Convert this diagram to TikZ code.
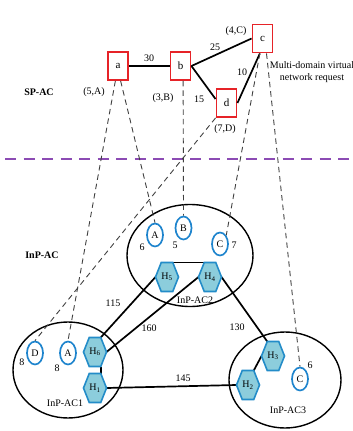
\documentclass[tikz,border=0pt]{standalone}
\usepackage{fontspec}
\setmainfont{Liberation Serif}
\usetikzlibrary{shapes.geometric,backgrounds}

% A hexagon with flat top and bottom edges and pointed left/right corners,
% stretched to the node's minimum width and height.
\makeatletter
\newdimen\hexL \newdimen\hexR \newdimen\hexT \newdimen\hexB \newdimen\hexM
\newdimen\hexQL \newdimen\hexQR
\pgfdeclareshape{hexcell}{%
  \inheritsavedanchors[from=rectangle]%
  \inheritanchorborder[from=rectangle]%
  \inheritanchor[from=rectangle]{center}%
  \inheritanchor[from=rectangle]{north}%
  \inheritanchor[from=rectangle]{south}%
  \inheritanchor[from=rectangle]{east}%
  \inheritanchor[from=rectangle]{west}%
  \inheritanchor[from=rectangle]{mid}%
  \inheritanchor[from=rectangle]{base}%
  \anchor{north west}{\southwest\pgf@xa=\pgf@x\northeast\pgf@x=.25\pgf@x\advance\pgf@x by .75\pgf@xa}%
  \anchor{north east}{\southwest\pgf@xa=\pgf@x\northeast\pgf@x=.75\pgf@x\advance\pgf@x by .25\pgf@xa}%
  \anchor{south west}{\northeast\pgf@xa=\pgf@x\southwest\pgf@x=.75\pgf@x\advance\pgf@x by .25\pgf@xa}%
  \anchor{south east}{\northeast\pgf@xa=\pgf@x\southwest\pgf@x=.25\pgf@x\advance\pgf@x by .75\pgf@xa}%
  \backgroundpath{%
    \southwest\hexL=\pgf@x\hexB=\pgf@y
    \northeast\hexR=\pgf@x\hexT=\pgf@y
    \hexM=.5\hexB\advance\hexM by .5\hexT
    \hexQL=.75\hexL\advance\hexQL by .25\hexR
    \hexQR=.25\hexL\advance\hexQR by .75\hexR
    \pgfpathmoveto{\pgfqpoint{\hexL}{\hexM}}%
    \pgfpathlineto{\pgfqpoint{\hexQL}{\hexT}}%
    \pgfpathlineto{\pgfqpoint{\hexQR}{\hexT}}%
    \pgfpathlineto{\pgfqpoint{\hexR}{\hexM}}%
    \pgfpathlineto{\pgfqpoint{\hexQR}{\hexB}}%
    \pgfpathlineto{\pgfqpoint{\hexQL}{\hexB}}%
    \pgfpathclose
  }%
}
\makeatother

\definecolor{boxred}{RGB}{230,35,40}
\definecolor{ringblue}{RGB}{30,132,205}
\definecolor{hexfill}{RGB}{140,205,220}
\definecolor{hexedge}{RGB}{35,140,200}
\definecolor{splitpurple}{RGB}{140,75,180}

\begin{document}
\begin{tikzpicture}[x=1pt,y=-1pt,
  font=\fontsize{10}{11.5}\selectfont,
  vbox/.style={draw=boxred, line width=1.9pt, fill=white,
    minimum width=20pt, minimum height=28pt, inner sep=0pt,
    font=\fontsize{11}{12}\selectfont},
  vlink/.style={draw=black, line width=1.7pt},
  plink/.style={draw=black, line width=1.7pt},
  maplink/.style={draw=black!75, line width=0.9pt, dash pattern=on 5.5pt off 4pt},
  splitline/.style={draw=splitpurple, line width=2.2pt, dash pattern=on 11pt off 7.5pt},
  acarea/.style={draw=black, line width=1.4pt, ellipse, inner sep=0pt},
  ring/.style={draw=ringblue, line width=1.7pt, ellipse, inner sep=0pt,
    minimum width=16pt, minimum height=23pt},
  hexnode/.style={shape=hexcell, draw=hexedge, fill=hexfill, line width=1.6pt,
    minimum width=23pt, minimum height=29pt, inner sep=0pt, outer sep=0pt},
  lbl/.style={inner sep=0pt},
  tier/.style={inner sep=0pt, font=\fontsize{10}{11.5}\selectfont\bfseries}]

\useasboundingbox (0,0) rectangle (353,431);

% ---- virtual network request (upper layer) ----
\node[vbox] (a) at (118,66) {a};
\node[vbox] (b) at (180.5,66) {b};
\node[vbox] (c) at (262.5,38.5) {c};
\node[vbox] (d) at (226.5,103) {d};

\draw[vlink] (a) -- (b);
\draw[vlink] (b.east) -- (c.west);
\draw[vlink] (b.east) -- (d.160);
\draw[vlink] (d.east) -- (c.-100);

\node[lbl] (w30) at (149,58) {30};
\node[lbl] (w25) at (215,47) {25};
\node[lbl] (w15) at (199,99) {15};
\node[lbl] (w10) at (242,72) {10};

\node[lbl] (ca) at (94,92) {(5,A)};
\node[lbl] (cb) at (163,98) {(3,B)};
\node[lbl] (cc) at (236,31) {(4,C)};
\node[lbl] (cd) at (225,129) {(7,D)};

\node[lbl, align=center] (req) at (312,72) {Multi-domain virtual\\network request};

\node[tier] (spac) at (39,92) {SP-AC};
\node[tier] (inpac) at (42,255) {InP-AC};

% ---- separator between the two layers ----
\coordinate (splitL) at (5,159);
\coordinate (splitR) at (350,159);
\draw[splitline] (splitL) -- (splitR);

% ---- physical domains (lower layer) ----
\node[acarea, minimum width=126pt, minimum height=102pt] (ac2) at (190,255.5) {};
\node[acarea, minimum width=110pt, minimum height=96pt] (ac1) at (68,370) {};
\node[acarea, minimum width=112pt, minimum height=96pt] (ac3) at (285,380) {};

\node[lbl] (n2) at (195,300) {InP-AC2};
\node[lbl] (n1) at (65,403) {InP-AC1};
\node[lbl] (n3) at (288,410) {InP-AC3};

% candidate substrate nodes
\node[ring] (A2) at (155,235) {A};
\node[ring] (B2) at (183.5,228) {B};
\node[ring] (C2) at (220,244) {C};
\node[ring] (D1) at (35,353) {D};
\node[ring] (A1) at (68,353) {A};
\node[ring] (C3) at (300,379) {C};

\node[lbl] (r6a) at (142,247) {6};
\node[lbl] (r5b) at (175,245) {5};
\node[lbl] (r7c) at (234,245) {7};
\node[lbl] (r8d) at (22,362) {8};
\node[lbl] (r8a) at (57,368) {8};
\node[lbl] (r6c) at (310,365) {6};

% border nodes
\node[hexnode] (H5) at (167,277) {H\textsubscript{5}};
\node[hexnode] (H4) at (210,277) {H\textsubscript{4}};
\node[hexnode] (H6) at (95,352) {H\textsubscript{6}};
\node[hexnode] (H1) at (95,388) {H\textsubscript{1}};
\node[hexnode] (H3) at (273,356) {H\textsubscript{3}};
\node[hexnode] (H2) at (248,385) {H\textsubscript{2}};

\begin{scope}[on background layer]
  \draw[plink] (H5.north east) -- (H4.north west);
  \draw[plink] (H6.north east) -- (H5.west);
  \draw[plink] (H6.east) -- (H4.west);
  \draw[plink] (H4.east) -- (H3.north west);
  \draw[plink] (H6.south east) -- (H1.north east);
  \draw[plink] (H1.east) -- (H2.west);
  \draw[plink] (H2.north east) -- (H3.west);
\end{scope}

\node[lbl] (l115) at (113,303) {115};
\node[lbl] (l160) at (149,328) {160};
\node[lbl] (l130) at (237,327) {130};
\node[lbl] (l145) at (183,378) {145};

% ---- node mappings ----
\draw[maplink] (a.-100) -- (A1.north);
\draw[maplink] (a.-80) -- (A2.north);
\draw[maplink] (b.-80) -- (B2.north);
\draw[maplink] (d.south west) -- (D1.north);
\draw[maplink] (c.-100) -- (C2.north east);
\draw[maplink] (c.-75) -- (C3.north);

\end{tikzpicture}
\end{document}
